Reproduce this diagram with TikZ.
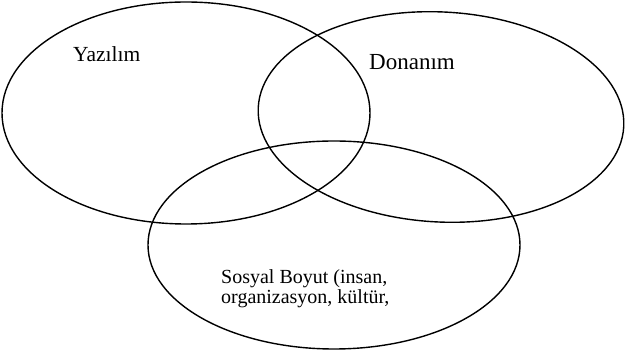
\documentclass[tikz,border=0pt]{standalone}
\usepackage{fontspec}
\setmainfont{Liberation Serif}
\begin{document}
\begin{tikzpicture}[x=1pt,y=-1pt,
  setring/.style={draw=black,line width=1.4pt},
  lbl/.style={inner sep=0pt,anchor=base west}]
\useasboundingbox (0,0) rectangle (625,352);
\draw[setring] (186,113) ellipse [x radius=184, y radius=111];
\draw[setring,rotate around={-3:(441,117)}] (441,117) ellipse [x radius=183, y radius=105];
\draw[setring] (334,245) ellipse [x radius=186, y radius=104];
\node[lbl,font=\fontsize{21.5}{24}\selectfont] (yaz) at (73,62) {Yazılım};
\node[lbl,font=\fontsize{23}{24}\selectfont] (don) at (369,70) {Donanım};
\node[lbl,font=\fontsize{20}{24}\selectfont] (sos1) at (221,284) {Sosyal Boyut (insan,};
\node[lbl,font=\fontsize{20}{24}\selectfont] (sos2) at (221,304) {organizasyon, kültür,};
\end{tikzpicture}
\end{document}
